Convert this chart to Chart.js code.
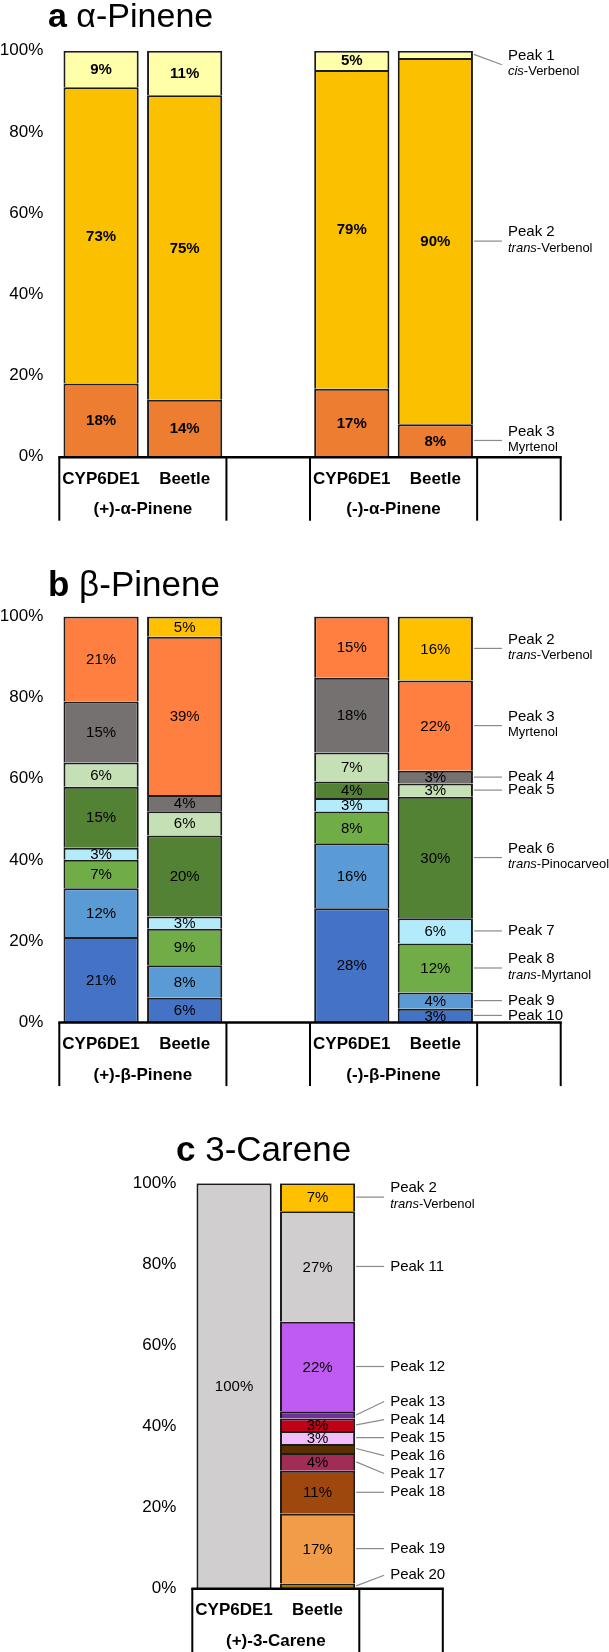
<!DOCTYPE html>
<html>
<head>
<meta charset="utf-8">
<script src="https://cdn.jsdelivr.net/npm/chart.js@4.4.1/dist/chart.umd.min.js"></script>
<style>
  body { margin: 0; background: #fff; width: 609px; height: 1652px; position: relative; overflow: hidden; }
  .panel { position: absolute; left: 0; width: 609px; }
</style>
</head>
<body>
<div class="panel" style="top:0;height:530px"><canvas id="chart-a" width="609" height="530"></canvas></div>
<div class="panel" style="top:530px;height:560px"><canvas id="chart-b" width="609" height="560"></canvas></div>
<div class="panel" style="top:1090px;height:562px"><canvas id="chart-c" width="609" height="562"></canvas></div>
<script>
// a: alpha-pinene
const alphaCategories = ['CYP6DE1', 'Beetle', '', 'CYP6DE1', 'Beetle', ''];
const alphaGroups = ['(+)-α-Pinene', '', '(-)-α-Pinene', ''];
const alphaGroupSpans = [2, 1, 2, 1];
const alphaPeak1 = [9, 11, null, 4.75, 1.8, null];
const alphaPeak2 = [73, 75, null, 78.5, 90.2, null];
const alphaPeak3 = [18, 14, null, 16.75, 8, null];

// b: beta-pinene
const betaCategories = ['CYP6DE1', 'Beetle', '', 'CYP6DE1', 'Beetle', ''];
const betaGroups = ['(+)-β-Pinene', '', '(-)-β-Pinene', ''];
const betaGroupSpans = [2, 1, 2, 1];
const betaPeak2 = [null, 5, null, null, 15.8, null];
const betaPeak3 = [21, 39, null, 15.1, 22.3, null];
const betaPeak4 = [15, 4, null, 18.4, 3.1, null];
const betaPeak5 = [6, 6, null, 7.1, 3.3, null];
const betaPeak6 = [15, 20, null, 4.1, 30, null];
const betaPeak7 = [3, 3, null, 3.3, 6.2, null];
const betaPeak8 = [7, 9, null, 7.8, 12.1, null];
const betaPeak9 = [12, 8, null, 16, 4, null];
const betaPeak10 = [21, 6, null, 28, 3.3, null];

// c: 3-carene
const careneCategories = ['CYP6DE1', 'Beetle', ''];
const careneGroups = ['(+)-3-Carene', ''];
const careneGroupSpans = [2, 1];
const carenePeak2 = [null, 6.9, null];
const carenePeak11 = [100, 27.3, null];
const carenePeak12 = [null, 22.1, null];
const carenePeak13 = [null, 1.8, null];
const carenePeak14 = [null, 3.1, null];
const carenePeak15 = [null, 3.2, null];
const carenePeak16 = [null, 2.2, null];
const carenePeak17 = [null, 4.4, null];
const carenePeak18 = [null, 10.6, null];
const carenePeak19 = [null, 17.2, null];
const carenePeak20 = [null, 1.2, null];

const FONT = '"Liberation Sans", Arial, sans-serif';

// stacked to 100% like the spreadsheet does
const toShares = (seriesList) => {
  const totals = seriesList[0].map((_, i) =>
    seriesList.reduce((sum, s) => sum + (s[i] || 0), 0));
  return seriesList.map((s) => s.map((v, i) => (v === null ? null : (v / totals[i]) * 100)));
};

const makeDatasets = (peaks) => {
  const shares = toShares(peaks.map((p) => p.values));
  return peaks.map((p, i) => ({
    label: p.name,
    sub: p.sub,
    raw: p.values,
    data: shares[i],
    backgroundColor: p.color,
    borderColor: '#1c1c1c',
    borderWidth: 2,
    stack: 's',
  }));
};

// spread leader labels so they do not collide
const spreadLabels = (items, gap, lo, hi) => {
  items.sort((a, b) => a.want - b.want);
  let groups = items.map((it) => ({ items: [it], top: it.want }));
  const fix = (g) => {
    const span = (g.items.length - 1) * gap;
    const mean = g.items.reduce((s, it) => s + it.want, 0) / g.items.length;
    g.top = Math.min(Math.max(mean - span / 2, lo), hi - span);
  };
  groups.forEach(fix);
  let merged = true;
  while (merged) {
    merged = false;
    for (let i = 1; i < groups.length; i += 1) {
      const a = groups[i - 1];
      const b = groups[i];
      if (a.top + a.items.length * gap > b.top + 0.01) {
        const g = { items: a.items.concat(b.items), top: 0 };
        fix(g);
        groups.splice(i - 1, 2, g);
        merged = true;
        break;
      }
    }
  }
  groups.forEach((g) => g.items.forEach((it, k) => { it.y = g.top + k * gap; }));
};

const panelDecor = {
  id: 'panelDecor',
  afterDatasetsDraw(chart, args, opts) {
    const { ctx } = chart;
    ctx.save();
    ctx.fillStyle = '#000';
    ctx.font = `${opts.valueBold ? 'bold ' : ''}15px ${FONT}`;
    ctx.textAlign = 'center';
    ctx.textBaseline = 'middle';
    chart.data.datasets.forEach((ds, di) => {
      const meta = chart.getDatasetMeta(di);
      meta.data.forEach((bar, i) => {
        const raw = ds.raw[i];
        if (raw === null || raw < 2.5) return;
        const { x, y, base } = bar.getProps(['x', 'y', 'base'], true);
        ctx.fillText(`${Math.round(raw)}%`, x, (y + base) / 2 + 1);
      });
    });
    ctx.restore();
  },
  afterDraw(chart, args, opts) {
    const { ctx, chartArea } = chart;
    const { left, right, bottom, top } = chartArea;
    const n = chart.data.labels.length;
    const cw = (right - left) / n;
    ctx.save();

    // title
    ctx.fillStyle = '#000';
    ctx.textAlign = 'left';
    ctx.textBaseline = 'alphabetic';
    ctx.font = `bold ${opts.titleSize}px ${FONT}`;
    ctx.fillText(opts.titleLetter, opts.titleX, opts.titleY);
    const lw = ctx.measureText(opts.titleLetter + ' ').width;
    ctx.font = `${opts.titleSize}px ${FONT}`;
    ctx.fillText(opts.titleText, opts.titleX + lw, opts.titleY);

    // category table under the axis
    ctx.strokeStyle = '#000';
    ctx.lineWidth = 2.5;
    ctx.beginPath();
    ctx.moveTo(left - 1, bottom + 0.5);
    ctx.lineTo(right + 1, bottom + 0.5);
    ctx.stroke();
    ctx.lineWidth = 2;
    let at = 0;
    const edges = [0];
    opts.spans.forEach((s) => { at += s; edges.push(at); });
    edges.forEach((e) => {
      const px = left + e * cw;
      ctx.beginPath();
      ctx.moveTo(px, bottom);
      ctx.lineTo(px, bottom + 64);
      ctx.stroke();
    });
    ctx.font = `bold 17px ${FONT}`;
    ctx.textAlign = 'center';
    ctx.textBaseline = 'middle';
    opts.groups.forEach((g, gi) => {
      if (!g) return;
      const cx = left + ((edges[gi] + edges[gi + 1]) / 2) * cw;
      ctx.fillText(g, cx, bottom + 53);
    });

    // peak labels with leader lines
    const items = [];
    chart.data.datasets.forEach((ds, di) => {
      const bar = chart.getDatasetMeta(di).data[opts.anchor];
      const raw = ds.raw[opts.anchor];
      if (!bar || raw === null) return;
      const p = bar.getProps(['x', 'y', 'base', 'width'], true);
      items.push({ ds, want: (p.y + p.base) / 2, seg: (p.y + p.base) / 2, edge: p.x + p.width / 2 });
    });
    spreadLabels(items, opts.gap, top + 14, bottom - opts.bottomRoom);
    items.forEach((it) => {
      const lx = it.edge + 35;
      ctx.strokeStyle = '#8a8a8a';
      ctx.lineWidth = 1.2;
      ctx.beginPath();
      ctx.moveTo(it.edge + 1, it.seg);
      ctx.lineTo(lx - 6, it.y);
      ctx.stroke();
      ctx.fillStyle = '#000';
      ctx.textAlign = 'left';
      ctx.textBaseline = 'middle';
      ctx.font = `15px ${FONT}`;
      const sub = it.ds.sub;
      ctx.fillText(it.ds.label, lx, sub ? it.y - 9 : it.y);
      if (sub) {
        ctx.font = `italic 13px ${FONT}`;
        ctx.fillText(sub[0], lx, it.y + 7);
        const iw = sub[0] ? ctx.measureText(sub[0]).width : 0;
        ctx.font = `13px ${FONT}`;
        ctx.fillText(sub[1], lx + iw, it.y + 7);
      }
    });
    ctx.restore();
  },
};

const buildPanel = (canvasId, labels, datasets, layout, decor) => {
  const canvas = document.querySelector(`#${canvasId}`);
  new Chart(canvas, {
    type: 'bar',
    data: { labels, datasets },
    plugins: [panelDecor],
    options: {
      responsive: false,
      animation: false,
      categoryPercentage: 1,
      barPercentage: 0.9,
      layout: { padding: { top: layout.top, right: layout.right, left: 0, bottom: 0 } },
      plugins: {
        legend: { display: false },
        tooltip: { enabled: false },
        panelDecor: decor,
      },
      scales: {
        x: {
          stacked: true,
          grid: { display: false, drawTicks: false },
          border: { display: false },
          ticks: {
            color: '#000',
            font: { family: FONT, size: 17, weight: 'bold' },
            padding: 12,
            autoSkip: false,
            maxRotation: 0,
          },
          afterFit: (scale) => { scale.height = layout.below; },
        },
        y: {
          stacked: true,
          min: 0,
          max: 100,
          grid: { display: false, drawTicks: false },
          border: { display: false },
          ticks: {
            stepSize: 20,
            color: '#000',
            font: { family: FONT, size: 17 },
            padding: 16,
            callback: (v) => `${v}%`,
          },
          afterFit: (scale) => { scale.width = layout.left; },
        },
      },
    },
  });
};

buildPanel('chart-a', alphaCategories, makeDatasets([
  { name: 'Peak 3', sub: ['', 'Myrtenol'], values: alphaPeak3, color: '#ED7D31' },
  { name: 'Peak 2', sub: ['trans', '-Verbenol'], values: alphaPeak2, color: '#FBC000' },
  { name: 'Peak 1', sub: ['cis', '-Verbenol'], values: alphaPeak1, color: '#FFFFAA' },
]), { top: 50.7, right: 48.3, left: 59.3, below: 73.3 }, {
  titleLetter: 'a', titleText: 'α-Pinene', titleSize: 34, titleX: 48, titleY: 27,
  groups: alphaGroups, spans: alphaGroupSpans, anchor: 4, gap: 18, bottomRoom: 6, valueBold: true,
});

buildPanel('chart-b', betaCategories, makeDatasets([
  { name: 'Peak 10', values: betaPeak10, color: '#4472C4' },
  { name: 'Peak 9', values: betaPeak9, color: '#5B9BD5' },
  { name: 'Peak 8', sub: ['trans', '-Myrtanol'], values: betaPeak8, color: '#70AD47' },
  { name: 'Peak 7', values: betaPeak7, color: '#B4EBFB' },
  { name: 'Peak 6', sub: ['trans', '-Pinocarveol'], values: betaPeak6, color: '#548235' },
  { name: 'Peak 5', values: betaPeak5, color: '#C5E0B4' },
  { name: 'Peak 4', values: betaPeak4, color: '#767171' },
  { name: 'Peak 3', sub: ['', 'Myrtenol'], values: betaPeak3, color: '#FF7F40' },
  { name: 'Peak 2', sub: ['trans', '-Verbenol'], values: betaPeak2, color: '#FFC000' },
]), { top: 86.4, right: 48.3, left: 59.3, below: 67.9 }, {
  titleLetter: 'b', titleText: 'β-Pinene', titleSize: 35, titleX: 48, titleY: 66,
  groups: betaGroups, spans: betaGroupSpans, anchor: 4, gap: 12.5, bottomRoom: 6, valueBold: false,
});

buildPanel('chart-c', careneCategories, makeDatasets([
  { name: 'Peak 20', values: carenePeak20, color: '#A07000' },
  { name: 'Peak 19', values: carenePeak19, color: '#F09C48' },
  { name: 'Peak 18', values: carenePeak18, color: '#9E480E' },
  { name: 'Peak 17', values: carenePeak17, color: '#A12C56' },
  { name: 'Peak 16', values: carenePeak16, color: '#5B3000' },
  { name: 'Peak 15', values: carenePeak15, color: '#F2BEF9' },
  { name: 'Peak 14', values: carenePeak14, color: '#C00018' },
  { name: 'Peak 13', values: carenePeak13, color: '#7030A0' },
  { name: 'Peak 12', values: carenePeak12, color: '#BF5BF0' },
  { name: 'Peak 11', values: carenePeak11, color: '#D0CECE' },
  { name: 'Peak 2', sub: ['trans', '-Verbenol'], values: carenePeak2, color: '#FFC000' },
]), { top: 93.2, right: 166.2, left: 192.3, below: 63.7 }, {
  titleLetter: 'c', titleText: '3-Carene', titleSize: 35, titleX: 176, titleY: 71,
  groups: careneGroups, spans: careneGroupSpans, anchor: 1, gap: 18, bottomRoom: 13, valueBold: false,
});
</script>
</body>
</html>
